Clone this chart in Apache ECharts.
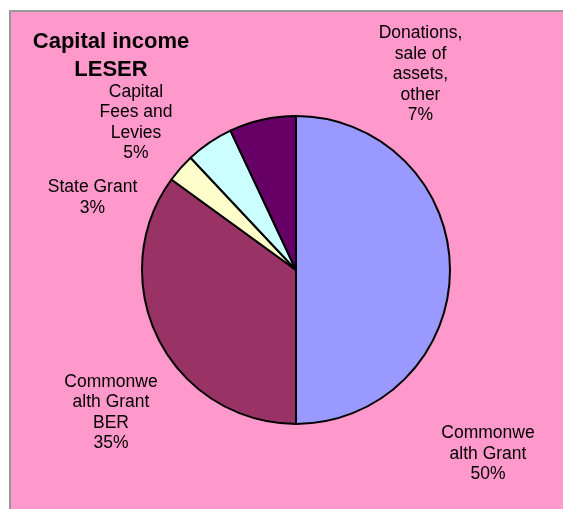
<!DOCTYPE html>
<html>
<head>
<meta charset="utf-8">
<script src="https://cdn.jsdelivr.net/npm/echarts@6/dist/echarts.min.js"></script>
<style>
html,body{margin:0;padding:0;background:#fff;}
#chart{width:563px;height:509px;}
</style>
</head>
<body>
<div id="chart"></div>
<script>
// Data
const categories = ['Commonwealth Grant', 'Commonwealth Grant BER', 'State Grant', 'Capital Fees and Levies', 'Donations, sale of assets, other'];
const values = [50, 35, 3, 5, 7];
const labelText = ['Commonwe\nalth Grant', 'Commonwe\nalth Grant\nBER', 'State Grant', 'Capital\nFees and\nLevies', 'Donations,\nsale of\nassets,\nother'];
const titleText = 'Capital income\nLESER';

// Styling / layout
const colors = ['#9999FF', '#993366', '#FFFFCC', '#CCFFFF', '#660066'];
const labelPos = [[488, 454], [111, 412.5], [92.5, 197.5], [136, 122.5], [420.5, 74.5]];
const FONT = '"Liberation Sans", Arial, sans-serif';

const chart = echarts.init(document.getElementById('chart'), null, {renderer: 'canvas'});
chart.setOption({
  animation: false,
  backgroundColor: '#ffffff',
  graphic: [
    {
      type: 'rect', z: -10,
      shape: {x: 10, y: 11, width: 560, height: 520},
      style: {fill: '#FF99CC', stroke: '#999999', lineWidth: 2}
    },
    {
      type: 'text', x: 111, y: 56,
      style: {
        text: titleText, align: 'center', verticalAlign: 'middle',
        fontSize: 22, fontWeight: 'bold', fontFamily: FONT, lineHeight: 28, fill: '#000'
      }
    }
  ],
  series: [{
    type: 'pie',
    center: [296, 270],
    radius: 154,
    startAngle: 90,
    clockwise: true,
    avoidLabelOverlap: false,
    data: categories.map((c, i) => ({name: c, value: values[i], itemStyle: {color: colors[i]}})),
    itemStyle: {borderColor: '#000', borderWidth: 2},
    emphasis: {disabled: true},
    label: {
      show: true,
      position: 'outside',
      color: '#000',
      fontFamily: FONT,
      fontSize: 17.5,
      lineHeight: 20.5,
      align: 'center',
      formatter: p => labelText[p.dataIndex] + '\n' + Math.round(p.percent) + '%'
    },
    labelLine: {show: false},
    labelLayout: p => ({
      x: labelPos[p.dataIndex][0],
      y: labelPos[p.dataIndex][1],
      align: 'center',
      verticalAlign: 'middle'
    })
  }]
});
</script>
</body>
</html>
